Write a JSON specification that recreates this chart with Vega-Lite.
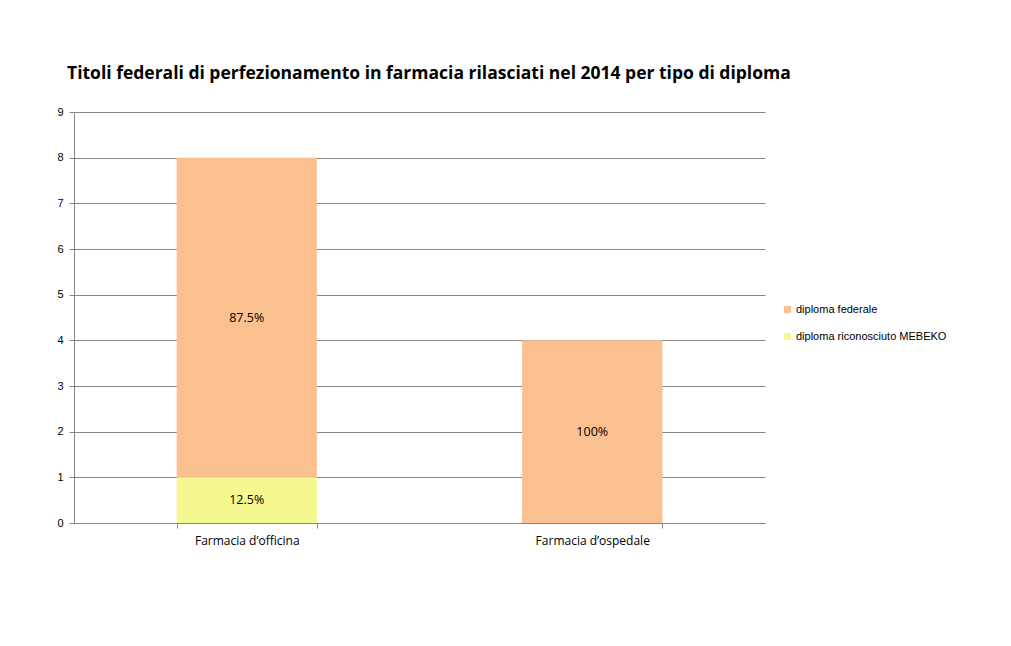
{
  "$schema": "https://vega.github.io/schema/vega-lite/v6.json",
  "width": 691,
  "height": 411,
  "autosize": {"type": "none"},
  "padding": {"left": 74, "top": 112, "right": 246, "bottom": 123},
  "background": "white",
  "title": {
    "text": "Titoli federali di perfezionamento in farmacia rilasciati nel 2014 per tipo di diploma",
    "anchor": "start",
    "frame": "group",
    "dx": -7,
    "offset": 24,
    "font": "Open Sans",
    "fontSize": 17.5,
    "fontWeight": "bold",
    "color": "#000000"
  },
  "data": {
    "values": [
      {"categoria": "Farmacia d’officina", "tipo": "diploma federale", "valore": 7, "etichetta": "87.5%"},
      {"categoria": "Farmacia d’officina", "tipo": "diploma riconosciuto MEBEKO", "valore": 1, "etichetta": "12.5%"},
      {"categoria": "Farmacia d’ospedale", "tipo": "diploma federale", "valore": 4, "etichetta": "100%"},
      {"categoria": "Farmacia d’ospedale", "tipo": "diploma riconosciuto MEBEKO", "valore": 0, "etichetta": ""}
    ]
  },
  "encoding": {
    "x": {
      "field": "categoria",
      "type": "nominal",
      "sort": null,
      "title": null,
      "scale": {"paddingInner": 0.594, "paddingOuter": 0.297},
      "axis": {
        "labelAngle": 0,
        "labelFont": "Open Sans",
        "labelFontSize": 12,
        "labelColor": "#000000",
        "labelPadding": 7,
        "domainColor": "#868686",
        "tickColor": "#868686",
        "tickSize": 5,
        "tickBand": "extent",
        "grid": false
      }
    }
  },
  "layer": [
    {
      "mark": {"type": "bar"},
      "encoding": {
        "y": {
          "field": "valore",
          "type": "quantitative",
          "stack": "zero",
          "title": null,
          "scale": {"domain": [0, 9], "nice": false},
          "axis": {
            "values": [0, 1, 2, 3, 4, 5, 6, 7, 8, 9],
            "labelFont": "Liberation Sans",
            "labelFontSize": 11,
            "labelColor": "#000000",
            "labelPadding": 6,
            "domainColor": "#868686",
            "tickColor": "#868686",
            "tickSize": 5,
            "gridColor": "#868686",
            "gridWidth": 1
          }
        },
        "color": {
          "field": "tipo",
          "type": "nominal",
          "scale": {
            "domain": ["diploma federale", "diploma riconosciuto MEBEKO"],
            "range": ["#FAC090", "#F5F88E"]
          },
          "legend": {
            "title": null,
            "orient": "none",
            "legendX": 708,
            "legendY": 192,
            "symbolType": "square",
            "symbolSize": 50,
            "symbolStrokeWidth": 0,
            "labelFont": "Liberation Sans",
            "labelFontSize": 11,
            "labelColor": "#000000",
            "labelOffset": 3,
            "rowPadding": 15
          }
        },
        "order": {"field": "tipo", "sort": "descending"}
      }
    },
    {
      "transform": [
        {"stack": "valore", "groupby": ["categoria"], "sort": [{"field": "tipo", "order": "descending"}], "as": ["v0", "v1"]},
        {"calculate": "(datum.v0 + datum.v1) / 2", "as": "centro"}
      ],
      "mark": {"type": "text", "font": "Open Sans", "fontSize": 12.5, "color": "#000000", "baseline": "middle"},
      "encoding": {
        "y": {"field": "centro", "type": "quantitative"},
        "text": {"field": "etichetta"}
      }
    }
  ],
  "config": {
    "view": {"stroke": null}
  }
}
